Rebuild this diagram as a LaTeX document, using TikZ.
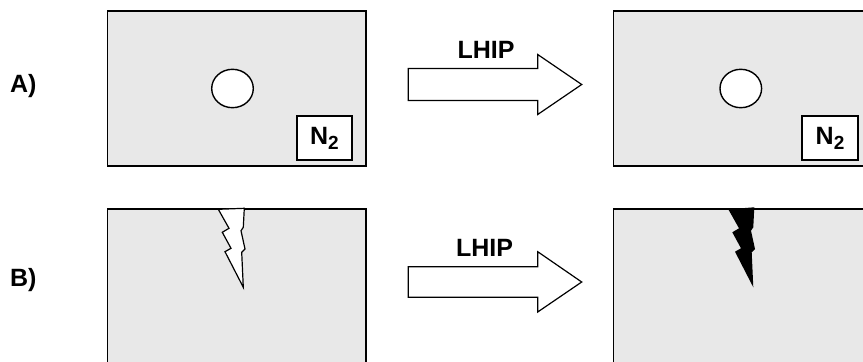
\documentclass[tikz,border=0pt]{standalone}
\usepackage{fontspec}
\setmainfont{Liberation Sans}
\usepackage{tikz}

\begin{document}
\begin{tikzpicture}[scale=0.3515]
\tikzstyle{every node}+=[inner sep=0pt, font=\fontsize{25}{30}\selectfont\bfseries]
\tikzstyle{sample}=[draw=black, fill=black!9, line width=1.6pt]
\tikzstyle{pore}=[draw=black, fill=white, line width=1.4pt]
\tikzstyle{blockarrow}=[draw=black, fill=white, line width=1.2pt, line join=miter]
\clip (0,0) rectangle (86.3,-36.2);
\fill [white] (0,0) rectangle (86.3,-36.2);
% row A
\draw (1.0,-9.27) node [anchor=base west] (la) {A)};
\draw [sample] (10.73,-1.1) rectangle (36.6,-16.6);
\draw [pore] (23.25,-8.85) ellipse (2.08 and 1.92);
\draw [pore] (29.7,-11.6) rectangle (35.2,-16.0);
\draw (32.45,-14.4) node [anchor=base] (na) {N\raisebox{-5pt}{\fontsize{19}{20}\selectfont 2}};
\draw [blockarrow] (40.83,-6.85) -- (53.77,-6.85) -- (53.77,-5.45) -- (58.17,-8.45)
  -- (53.77,-11.45) -- (53.77,-10.05) -- (40.83,-10.05) -- cycle;
\draw (48.6,-5.83) node [anchor=base] (ha) {LHIP};
\draw [sample] (61.33,-1.1) rectangle (90,-16.6);
\draw [pore] (74.08,-8.85) ellipse (2.08 and 1.92);
\draw [pore] (80.2,-11.6) rectangle (85.8,-16.0);
\draw (83.0,-14.4) node [anchor=base] (nb) {N\raisebox{-5pt}{\fontsize{19}{20}\selectfont 2}};
% row B
\draw (1.0,-28.6) node [anchor=base west] (lb) {B)};
\draw [sample] (10.73,-20.9) rectangle (36.6,-40);
\draw [pore, line width=1.2pt, line join=miter] (21.83,-20.93) -- (22.9,-22.83) -- (22.23,-23.23)
  -- (23.1,-24.83) -- (22.5,-25.17) -- (24.33,-28.73) -- (24.17,-25.23) -- (24.5,-24.9)
  -- (24.1,-23.07) -- (24.33,-22.73) -- (24.43,-20.83) -- cycle;
\draw [blockarrow] (40.83,-26.67) -- (53.77,-26.67) -- (53.77,-25.17) -- (58.17,-28.2)
  -- (53.77,-31.2) -- (53.77,-29.73) -- (40.83,-29.73) -- cycle;
\draw (48.45,-25.67) node [anchor=base] (hb) {LHIP};
\draw [sample] (61.33,-20.9) rectangle (90,-40);
\fill [black] (72.83,-20.93) -- (73.9,-22.83) -- (73.23,-23.23)
  -- (74.1,-24.83) -- (73.5,-25.17) -- (75.33,-28.73) -- (75.17,-25.23) -- (75.5,-24.9)
  -- (75.1,-23.07) -- (75.33,-22.73) -- (75.43,-20.73) -- cycle;
\end{tikzpicture}
\end{document}
